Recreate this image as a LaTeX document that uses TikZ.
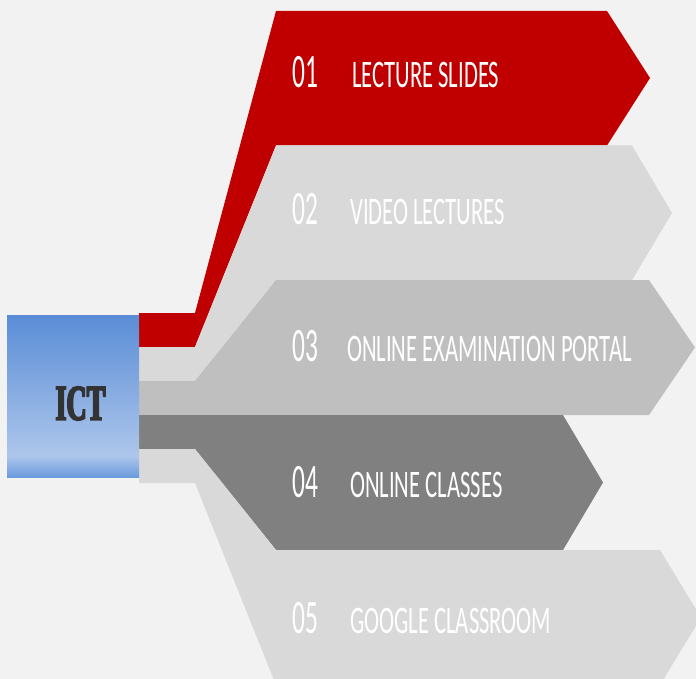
\documentclass[tikz,border=0pt]{standalone}
\usepackage{fontspec}
\newfontfamily\bandfont[FakeStretch=0.58]{Carlito}
\newfontfamily\numfont[FakeStretch=0.53]{Carlito}
\newfontfamily\ictfont[FakeStretch=0.56, FakeBold=3.5]{Liberation Serif Bold}
\definecolor{ICTback}{HTML}{F2F2F2}
\definecolor{ICTred}{HTML}{C00000}
\definecolor{ICTlight}{HTML}{D9D9D9}
\definecolor{ICTmid}{HTML}{BFBFBF}
\definecolor{ICTdark}{HTML}{808080}
\definecolor{ICTblueA}{HTML}{5A8DD6}
\definecolor{ICTblueB}{HTML}{ADC6EB}
\definecolor{ICTblueC}{HTML}{6A9BDD}
\definecolor{ICTtext}{HTML}{333333}
\usetikzlibrary{positioning}

\tikzset{
  num/.style={anchor=base west, inner sep=0pt, text=white, font=\numfont\fontsize{48}{48}\selectfont},
  item/.style={anchor=base west, inner sep=0pt, text=white, font=\bandfont\fontsize{39}{39}\selectfont}
}

\begin{document}
\begin{tikzpicture}[x=1pt, y=-1pt]
   % Background
   \fill[ICTback] (0,0) rectangle (696,679);
   \useasboundingbox (0,0) rectangle (696,679);
   % Band 01 (red)
   \fill[ICTred] (139,313) -- (195,313) -- (276,11) -- (607,11) -- (650,78)
      -- (607,145.5) -- (276,145.5) -- (195,347) -- (139,347) -- cycle;
   % Band 02 (light gray)
   \fill[ICTlight] (139,347) -- (195,347) -- (276,145.5) -- (632,145.5) -- (672,213)
      -- (632,280) -- (276,280) -- (195,381) -- (139,381) -- cycle;
   % Band 03 (mid gray)
   \fill[ICTmid] (139,381) -- (195,381) -- (276,280) -- (649,280) -- (695,347.5)
      -- (649,415) -- (139,415) -- cycle;
   % Band 04 (dark gray)
   \fill[ICTdark] (139,415) -- (563,415) -- (603,482.5) -- (563,550)
      -- (276,550) -- (195,449) -- (139,449) -- cycle;
   % Band 05 (light gray)
   \fill[ICTlight] (139,449) -- (195,449) -- (276,550) -- (660,550) -- (701,617.5)
      -- (660,685) -- (276,685) -- (195,483) -- (139,483) -- cycle;
   % ICT box
   \shade[top color=ICTblueA, bottom color=ICTblueB] (7,315) rectangle (139,456);
   \shade[top color=ICTblueB, bottom color=ICTblueC] (7,456) rectangle (139,477);
   \node[inner sep=0pt, text=ICTtext, font=\ictfont\fontsize{50}{50}\selectfont]
      (ict) at (80.5,403.5) {ICT};
   % Labels
   \node[num]  (n1) at (292,88) {01};
   \node[item] (l1) at (352,88) {LECTURE SLIDES};
   \node[num]  (n2) at (292,224.5) {02};
   \node[item] (l2) at (350,224.5) {VIDEO LECTURES};
   \node[num]  (n3) at (292,361) {03};
   \node[item] (l3) at (347,361) {ONLINE EXAMINATION PORTAL};
   \node[num]  (n4) at (292,497) {04};
   \node[item] (l4) at (350,497) {ONLINE CLASSES};
   \node[num]  (n5) at (292,633) {05};
   \node[item] (l5) at (350,633) {GOOGLE CLASSROOM};
\end{tikzpicture}
\end{document}
